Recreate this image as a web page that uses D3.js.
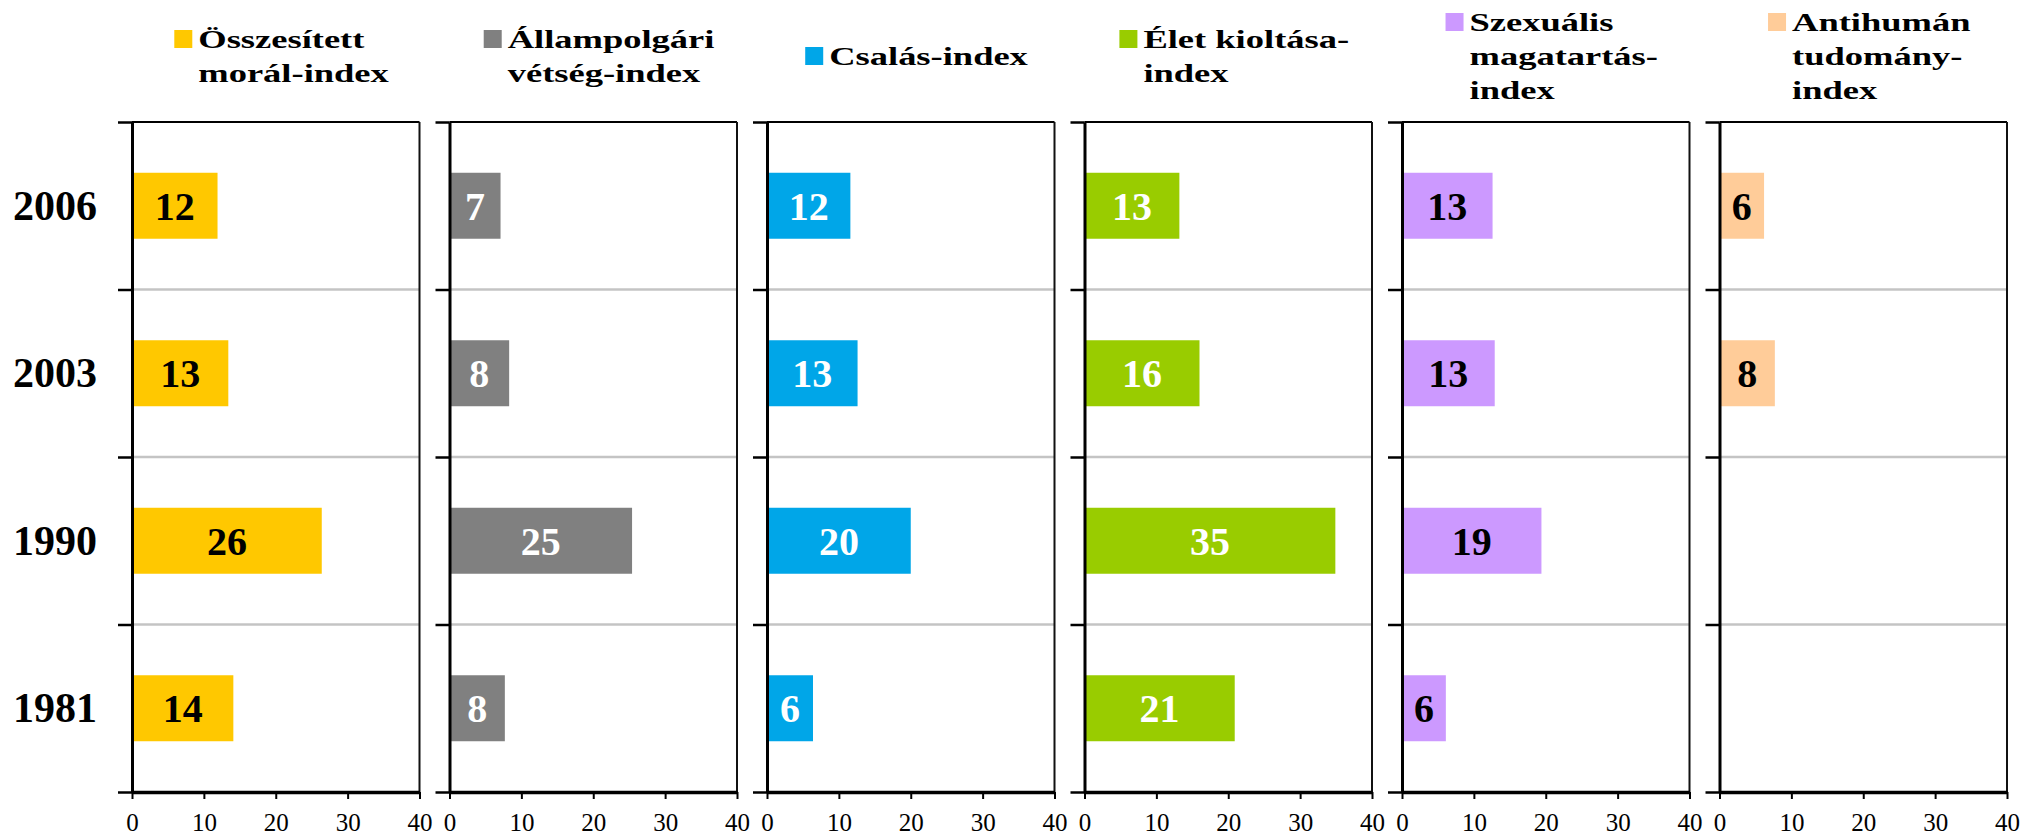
<!DOCTYPE html>
<html>
<head>
<meta charset="utf-8">
<script src="https://cdn.jsdelivr.net/npm/d3@7"></script>
<style>
  body { margin: 0; background: #fff; }
  svg { display: block; }
  text { font-family: "Liberation Serif", "Times New Roman", serif; }
</style>
</head>
<body>
<svg id="chart" width="2021" height="837"></svg>
<script>
// data
const years = ["2006", "2003", "1990", "1981"];
const xTicks = [0, 10, 20, 30, 40];

const seriesNames = [
    ["Összesített", "morál-index"],
    ["Állampolgári", "vétség-index"],
    ["Csalás-index"],
    ["Élet kioltása-", "index"],
    ["Szexuális", "magatartás-", "index"],
    ["Antihumán", "tudomány-", "index"]
];
const seriesColors = ["#FFC800", "#808080", "#00A6E8", "#99CC00", "#CC99FF", "#FFCC99"];
const labelColors = ["#000", "#fff", "#fff", "#fff", "#000", "#000"];

const moralIndex = [11.9, 13.4, 26.4, 14.1];
const allampolgariIndex = [7.1, 8.3, 25.4, 7.7];
const csalasIndex = [11.6, 12.6, 20.0, 6.4];
const eletIndex = [13.2, 16.0, 34.9, 20.9];
const szexualisIndex = [12.6, 12.9, 19.4, 6.1];
const antihumanIndex = [6.2, 7.7, null, null];

const seriesValues = [moralIndex, allampolgariIndex, csalasIndex, eletIndex, szexualisIndex, antihumanIndex];

// layout
const svg = d3.select("#chart");
const plotTop = 122, plotBottom = 792;
const firstLeft = 132, panelWidth = 287.5, panelStep = 317.5;

const yEdge = d3.scaleLinear().domain([0, years.length]).range([plotTop, plotBottom]);
const y = d3.scaleBand()
    .domain(years)
    .range([plotTop, plotBottom])
    .paddingInner(0.606)
    .paddingOuter(0.303);

seriesValues.forEach((values, i) => {
    const left = firstLeft + i * panelStep;
    const x = d3.scaleLinear().domain([0, 40]).range([left, left + panelWidth]);
    const g = svg.append("g");

    // gridlines between categories
    g.selectAll("line.grid")
        .data(d3.range(1, years.length))
        .enter().append("line")
        .attr("class", "grid")
        .attr("x1", x(0)).attr("x2", x(40))
        .attr("y1", d => yEdge(d)).attr("y2", d => yEdge(d))
        .attr("stroke", "#C4C4C4")
        .attr("stroke-width", 2.5);

    // top and right border
    g.append("line")
        .attr("x1", x(0)).attr("x2", x(40))
        .attr("y1", plotTop).attr("y2", plotTop)
        .attr("stroke", "#000").attr("stroke-width", 2);
    g.append("line")
        .attr("x1", x(40)).attr("x2", x(40))
        .attr("y1", plotTop).attr("y2", plotBottom)
        .attr("stroke", "#111").attr("stroke-width", 2);

    // bars
    const rows = years.map((yr, k) => ({ year: yr, value: values[k] })).filter(d => d.value != null);
    g.selectAll("rect.bar")
        .data(rows)
        .enter().append("rect")
        .attr("class", "bar")
        .attr("x", x(0))
        .attr("y", d => y(d.year))
        .attr("width", d => x(d.value) - x(0))
        .attr("height", y.bandwidth())
        .attr("fill", seriesColors[i]);

    g.selectAll("text.val")
        .data(rows)
        .enter().append("text")
        .attr("class", "val")
        .attr("x", d => (x(0) + x(d.value)) / 2)
        .attr("y", d => y(d.year) + y.bandwidth() / 2 + 14)
        .attr("text-anchor", "middle")
        .attr("font-size", 40)
        .attr("font-weight", "bold")
        .attr("fill", labelColors[i])
        .text(d => Math.round(d.value));

    // left axis: ticks at category boundaries
    const leftAxis = g.append("g")
        .attr("transform", `translate(${x(0)},0)`)
        .call(d3.axisLeft(yEdge).tickValues(d3.range(0, years.length + 1)).tickFormat("").tickSize(14).tickSizeOuter(0));
    leftAxis.select(".domain").attr("stroke", "#000").attr("stroke-width", 3);
    leftAxis.selectAll(".tick line").attr("stroke", "#000").attr("stroke-width", 2.5);

    // bottom axis
    const bottomAxis = g.append("g")
        .attr("transform", `translate(0,${plotBottom})`)
        .call(d3.axisBottom(x).tickValues(xTicks).tickSize(7).tickSizeOuter(0).tickPadding(14));
    bottomAxis.select(".domain").attr("stroke", "#000").attr("stroke-width", 3.5);
    bottomAxis.selectAll(".tick line").attr("stroke", "#000").attr("stroke-width", 2);
    bottomAxis.selectAll(".tick text")
        .attr("font-family", "Liberation Serif, Times New Roman, serif")
        .attr("font-size", 25)
        .attr("fill", "#000");

    // legend above the panel
    const lines = seriesNames[i];
    const lineGap = 34;
    const firstBaseline = 65 - (lines.length - 1) / 2 * lineGap;
    const leg = svg.append("g");
    leg.append("rect")
        .attr("x", 0).attr("y", firstBaseline - 18)
        .attr("width", 18).attr("height", 18)
        .attr("fill", seriesColors[i]);
    const txt = leg.append("g").attr("transform", "translate(24,0) scale(1.46,1)");
    txt.selectAll("text")
        .data(lines)
        .enter().append("text")
        .attr("x", 0)
        .attr("y", (d, k) => firstBaseline + k * lineGap)
        .attr("font-size", 25)
        .attr("font-weight", "bold")
        .attr("fill", "#000")
        .text(d => d);
    const w = 24 + txt.node().getBBox().width * 1.46;
    leg.attr("transform", `translate(${left + panelWidth / 2 + 6 - w / 2},0)`);
});

// year labels on the left
svg.append("g").selectAll("text")
    .data(years)
    .enter().append("text")
    .attr("x", 97)
    .attr("y", d => y(d) + y.bandwidth() / 2 + 14)
    .attr("text-anchor", "end")
    .attr("font-size", 42)
    .attr("font-weight", "bold")
    .attr("fill", "#000")
    .text(d => d);
</script>
</body>
</html>
